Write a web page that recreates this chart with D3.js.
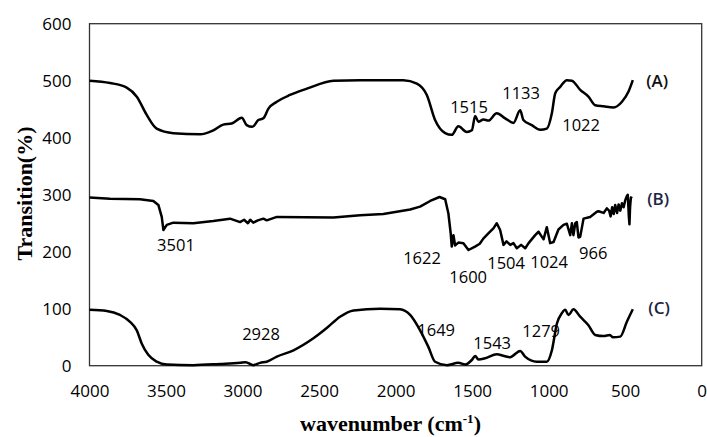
<!DOCTYPE html>
<html>
<head>
<meta charset="utf-8">
<script src="https://cdn.jsdelivr.net/npm/d3@7"></script>
<style>
  body { margin: 0; background: #fff; }
  .tick text { font-family: "Open Sans", sans-serif; font-size: 17px; fill: #000; }
  .peak { font-family: "Open Sans", sans-serif; font-size: 16.5px; fill: #000; }
  .tag { font-family: "Open Sans", sans-serif; font-size: 17px; font-weight: 600; }
  .title { font-family: "Liberation Serif", serif; font-size: 22px; font-weight: bold; fill: #000; }
</style>
</head>
<body>
<div class="g-chart"></div>
<script>
// spectrum A
var waveA = [4000,3866,3757,3691,3626,3561,3452,3278,3191,3126,3071,3005,2973,2936,2897,2864,2831,2776,2690,2580,2406,2232,1949,1861,1796,1742,1676,1633,1590,1535,1502,1480,1459,1426,1394,1339,1284,1230,1186,1165,1110,1055,1012,979,957,925,881,848,794,740,696,641,576,521,478,450];
var transA = [500,496,488,472,440,416,408,406,413,423,425,435,422,419,431,434,451,463,475,486,500,501,501,495,475,431,408,405,420,410,413,438,428,432,430,443,434,426,448,431,422,414,416,443,478,489,501,500,484,472,457,455,453,463,481,501];

// spectrum B
var waveB = [4000,3866,3670,3583,3550,3528,3517,3495,3452,3322,3191,3082,3016,2990,2965,2950,2930,2900,2864,2842,2776,2406,2232,2080,1905,1840,1774,1713,1676,1655,1640,1633,1622,1611,1590,1557,1524,1481,1450,1427,1394,1361,1339,1317,1295,1275,1251,1230,1208,1180,1153,1131,1088,1066,1044,1033,1012,990,968,936,903,881,859,848,838,826,816,805,794,772,729,685,674,641,620,605,595,585,575,565,553,543,532,521,510,500,490,483,476,472,468,463,458];
var transB = [295,293,292,289,282,261,238,247,251,250,254,258,252,256,250,256,251,255,258,255,261,260,264,266,274,279,289,296,292,267,232,209,229,211,216,215,203,209,214,223,232,241,250,238,212,218,212,215,206,212,206,215,229,235,226,222,243,215,217,239,247,249,229,250,229,250,252,225,226,258,261,270,271,268,276,272,262,278,266,282,268,283,272,285,278,290,297,300,262,248,278,294,297];

// spectrum C
var waveC = [4000,3887,3801,3735,3691,3659,3616,3561,3495,3322,3148,3016,2980,2930,2886,2842,2776,2667,2537,2450,2363,2275,2100,1971,1905,1840,1786,1742,1665,1590,1546,1502,1480,1459,1415,1339,1290,1252,1186,1154,1077,1012,979,946,914,892,870,838,794,740,696,641,600,580,532,489,450];
var transC = [98,96,89,77,62,39,19,7,2,1,3,5,6,1,5,7,16,27,48,66,86,97,100,99,89,62,33,7,1,5,2,10,17,11,13,20,17,15,26,16,7,7,27,74,92,98,89,99,86,71,54,52,54,50,51,77,99];

// peak labels: text, wavenumber, transition
var peakText = ["1515","1133","1022","3501","1622","1600","1504","1024","966","2928","1649","1543","1279"];
var peakWave = [1520,1180,788,3435,1827,1526,1278,997,709,2879,1735,1369,1049];
var peakValue = [443,468,412,202,178,145,170,171,187,45,52,29,50];

var seriesNames = ["(A)","(B)","(C)"];
var seriesTagWave = [291,284,278];
var seriesTagValue = [489,282,91];

var xTicks = [4000,3500,3000,2500,2000,1500,1000,500,0];
var yTicks = [0,100,200,300,400,500,600];

function drawChart() {
  var sel = d3.select(".g-chart").html("");
  var width = 707, height = 437;
  var margin = {top: 23.7, right: 5.3, bottom: 71.3, left: 89.5};
  var svg = sel.append("svg").attr("width", width).attr("height", height);
  var w = width - margin.left - margin.right;
  var h = height - margin.top - margin.bottom;
  var g = svg.append("g").attr("transform", "translate(" + margin.left + "," + margin.top + ")");

  var x = d3.scaleLinear().domain([4000, 0]).range([0, w]);
  var y = d3.scaleLinear().domain([0, 600]).range([h, 0]);

  // frame
  g.append("rect")
    .attr("width", w).attr("height", h)
    .attr("fill", "none").attr("stroke", "#333").attr("stroke-width", 1.3);

  var xaxis = g.append("g")
    .attr("transform", "translate(0," + h + ")")
    .call(d3.axisBottom(x).tickValues(xTicks).tickFormat(d3.format("d")).tickSize(0).tickPadding(19));
  xaxis.select(".domain").remove();

  var yaxis = g.append("g")
    .call(d3.axisLeft(y).tickValues(yTicks).tickSize(0).tickPadding(18));
  yaxis.select(".domain").remove();

  var smooth = d3.line().curve(d3.curveMonotoneX)
    .x(function(d) { return x(d[0]); })
    .y(function(d) { return y(d[1]); });
  var sharp = d3.line()
    .x(function(d) { return x(d[0]); })
    .y(function(d) { return y(d[1]); });

  var spectra = [
    {wave: waveA, val: transA, line: smooth},
    {wave: waveB, val: transB, line: sharp},
    {wave: waveC, val: transC, line: smooth}
  ];
  spectra.forEach(function(s) {
    var pts = s.wave.map(function(d, i) { return [d, s.val[i]]; });
    g.append("path")
      .datum(pts)
      .attr("d", s.line)
      .attr("fill", "none")
      .attr("stroke", "#000")
      .attr("stroke-width", 2.5)
      .attr("stroke-linejoin", "round");
  });

  // peak labels
  peakText.forEach(function(t, i) {
    g.append("text")
      .attr("class", "peak")
      .attr("text-anchor", "middle")
      .attr("x", x(peakWave[i]))
      .attr("y", y(peakValue[i]))
      .text(t);
  });

  seriesNames.forEach(function(t, i) {
    g.append("text")
      .attr("class", "tag")
      .attr("text-anchor", "middle")
      .attr("fill", i == 0 ? "#111" : "#1c2542")
      .attr("x", x(seriesTagWave[i]))
      .attr("y", y(seriesTagValue[i]))
      .text(t);
  });

  // axis titles
  svg.append("text")
    .attr("class", "title")
    .attr("text-anchor", "middle")
    .attr("transform", "translate(32,193.5) rotate(-90)")
    .text("Transition(%)");

  var xt = svg.append("text")
    .attr("class", "title")
    .attr("text-anchor", "middle")
    .attr("x", 390.5)
    .attr("y", 431);
  xt.append("tspan").text("wavenumber (cm");
  xt.append("tspan").attr("font-size", "13px").attr("dy", -8).text("-1");
  xt.append("tspan").attr("dy", 8).text(")");
}

drawChart();
</script>
</body>
</html>
